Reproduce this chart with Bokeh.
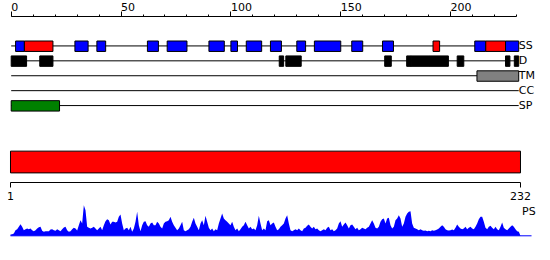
from bokeh.plotting import figure
from bokeh.layouts import column
from bokeh.models import Range1d, LinearAxis, FixedTicker
from bokeh.embed import file_html
from bokeh.resources import INLINE
from bokeh.core.properties import value
import numpy as np

# ---------------- data ----------------
seq_len = 232
track_names = ["SS", "D", "TM", "CC", "SP"]

# secondary structure (helix = blue, strand = red), in sequence coordinates
helix_start = [2, 29, 39, 62, 71, 90, 100, 107, 118, 130, 138, 155, 169, 211, 225]
helix_end   = [6, 35, 43, 67, 80, 97, 103, 114, 123, 134, 150, 160, 174, 216, 231]
strand_start = [6, 192, 216]
strand_end   = [19, 195, 225]

# disorder segments
dis_start = [0, 13, 122, 125, 170, 180, 182, 190, 203, 225, 229]
dis_end   = [7, 19, 124, 132, 173, 182, 190, 199, 206, 227, 231]

# transmembrane segment
tm_start = [212]
tm_end = [231]

# signal peptide
sp_start = [0]
sp_end = [22]

# top axis ticks
top_major = [0, 50, 100, 150, 200]
top_labels = ["0", "50", "100", "150", "200"]
top_minor = [0, 10, 20, 30, 40, 50, 60, 70, 80, 90, 100, 110, 120, 130, 140,
             150, 160, 170, 180, 190, 200, 210, 220, 230]

# whole-sequence bar
bar_start = [1]
bar_end = [232]
bottom_ticks = [1, 232]

# PS profile (sampled along the sequence from 1 to 232)
ps_values = [
    0.04, 0.05, 0.07, 0.17, 0.20, 0.27, 0.35, 0.27, 0.17, 0.20,
    0.22, 0.20, 0.22, 0.17, 0.14, 0.17, 0.22, 0.26, 0.27, 0.15,
    0.12, 0.14, 0.14, 0.14, 0.19, 0.20, 0.17, 0.15, 0.20, 0.17,
    0.14, 0.20, 0.25, 0.27, 0.17, 0.12, 0.14, 0.20, 0.24, 0.22,
    0.16, 0.32, 0.47, 0.37, 0.92, 0.77, 0.27, 0.24, 0.22, 0.24,
    0.27, 0.22, 0.17, 0.22, 0.27, 0.17, 0.32, 0.44, 0.50, 0.47,
    0.34, 0.42, 0.42, 0.40, 0.42, 0.57, 0.64, 0.37, 0.17, 0.22,
    0.24, 0.17, 0.27, 0.12, 0.22, 0.42,
    0.72, 0.32, 0.14, 0.32, 0.42, 0.44, 0.32, 0.27, 0.37, 0.40,
    0.32, 0.32, 0.42, 0.37, 0.27, 0.22, 0.37, 0.42, 0.44, 0.47,
    0.57, 0.42, 0.32, 0.24, 0.17, 0.22, 0.32, 0.42, 0.17, 0.14,
    0.17, 0.20, 0.27, 0.42, 0.54, 0.37, 0.27, 0.17, 0.37, 0.47,
    0.32, 0.60, 0.42, 0.24, 0.17, 0.22, 0.14, 0.20, 0.17, 0.37,
    0.52, 0.67, 0.52, 0.47, 0.42, 0.37, 0.32, 0.42, 0.27, 0.17,
    0.22, 0.14, 0.20, 0.27, 0.32, 0.42, 0.32, 0.22, 0.27, 0.20,
    0.22, 0.17, 0.32, 0.60, 0.37, 0.17, 0.22, 0.17,
    0.44, 0.47, 0.32, 0.37, 0.40, 0.27, 0.17, 0.20, 0.27, 0.32,
    0.37, 0.52, 0.62, 0.37, 0.17, 0.14, 0.17, 0.20, 0.17, 0.22,
    0.17, 0.14, 0.22, 0.24, 0.30, 0.34, 0.27, 0.22, 0.27, 0.20,
    0.22, 0.17, 0.14, 0.17, 0.20, 0.17, 0.24, 0.27, 0.17, 0.20,
    0.14, 0.17, 0.22, 0.37, 0.44, 0.27, 0.34, 0.40, 0.32, 0.22,
    0.32, 0.34, 0.27, 0.20, 0.24, 0.17, 0.20, 0.24, 0.22, 0.20,
    0.24, 0.27, 0.37, 0.47, 0.37, 0.24, 0.22, 0.27, 0.42, 0.50,
    0.52, 0.37, 0.52, 0.54, 0.32, 0.22, 0.27, 0.47,
    0.52, 0.62, 0.52, 0.27, 0.37, 0.57, 0.67, 0.72, 0.74, 0.37,
    0.24, 0.22, 0.20, 0.17, 0.20, 0.17, 0.15, 0.16, 0.14, 0.15,
    0.14, 0.17, 0.15, 0.17, 0.19, 0.22, 0.27, 0.32, 0.27, 0.20,
    0.17, 0.16, 0.17, 0.19, 0.17, 0.24, 0.34, 0.27, 0.22, 0.20,
    0.22, 0.27, 0.20, 0.24, 0.27, 0.22, 0.20, 0.27, 0.37, 0.50,
    0.57, 0.57, 0.42, 0.24, 0.20, 0.27, 0.30, 0.24, 0.20, 0.27,
    0.20, 0.17, 0.27, 0.40, 0.24, 0.20, 0.17, 0.22, 0.27, 0.32,
    0.27, 0.20, 0.14, 0.12, 0.00,
]
ps_x = np.linspace(1, seq_len, len(ps_values))

FONT = "DejaVu Sans"
FIG_SPACE = "\u2007"


def base_fig(height, x_range, y_range, mbb=0):
    p = figure(width=550, height=height, x_range=x_range, y_range=y_range,
               output_backend="svg", toolbar_location=None,
               x_axis_location=None, y_axis_location=None,
               min_border_left=0, min_border_right=0,
               min_border_top=0, min_border_bottom=mbb)
    p.outline_line_color = None
    p.xgrid.visible = False
    p.ygrid.visible = False
    p.background_fill_color = "white"
    p.border_fill_color = "white"
    return p


# ---------------- top panel: tracks ----------------
pA = base_fig(121, Range1d(-4.870, 245.47), Range1d(4.867, -1.973))
pA.margin = (-3, 0, 0, 0)

ax = LinearAxis(ticker=FixedTicker(ticks=top_major, minor_ticks=top_minor), bounds=(0, 230))
ax.major_tick_out = 5
ax.major_tick_in = 0
ax.minor_tick_out = 2
ax.minor_tick_in = 0
ax.major_label_standoff = -2
ax.major_label_text_font = FONT
ax.major_label_text_font_size = "11px"
ax.major_label_text_color = "black"
# labels start at their tick: pad on the left with figure spaces of the same width
ax.major_label_overrides = {t: FIG_SPACE * len(s) + s for t, s in zip(top_major, top_labels)}
ax.axis_line_color = "black"
ax.major_tick_line_color = "black"
ax.minor_tick_line_color = "black"
pA.add_layout(ax, "above")

rows = list(range(len(track_names)))
track_x1 = seq_len - 1
pA.segment(x0=[0] * len(rows), x1=[track_x1] * len(rows), y0=rows, y1=rows,
           line_color="black", line_width=1)

top_off, bot_off = -0.33, 0.37


def boxes(p, starts, ends, row, color):
    p.quad(left=starts, right=ends, top=[row + top_off] * len(starts),
           bottom=[row + bot_off] * len(starts), fill_color=color,
           line_color="black", line_width=1)


boxes(pA, helix_start, helix_end, 0, "#0000ff")
boxes(pA, strand_start, strand_end, 0, "#ff0000")
boxes(pA, dis_start, dis_end, 1, "#000000")
boxes(pA, tm_start, tm_end, 2, "#808080")
boxes(pA, sp_start, sp_end, 4, "#008000")

pA.text(x=[track_x1] * len(rows), y=rows, text=track_names, text_align="left",
        text_baseline="middle", text_font=value(FONT), text_font_size="11px",
        text_color="black")

# ---------------- middle panel: whole-sequence bar ----------------
pB = base_fig(86, Range1d(-3.529, 245.59), Range1d(0, 1), mbb=22)
pB.quad(left=bar_start, right=bar_end, bottom=[0.15], top=[0.49],
        fill_color="#ff0000", line_color="black", line_width=1)
axB = LinearAxis(ticker=FixedTicker(ticks=bottom_ticks, minor_ticks=[]), bounds=(1, 232))
axB.major_tick_out = 5
axB.major_tick_in = 0
axB.major_label_standoff = 4
axB.major_label_text_font = FONT
axB.major_label_text_font_size = "11px"
axB.major_label_text_color = "black"
axB.axis_line_color = "black"
pB.add_layout(axB, "below")

# ---------------- bottom panel: PS profile ----------------
pC = base_fig(56, Range1d(-3.529, 245.59), Range1d(-0.741, 0.939))
pC.varea(x=ps_x, y1=0, y2=ps_values, fill_color="#0000ff")
pC.segment(x0=[ps_x[0]], x1=[seq_len + 5], y0=[0], y1=[0], line_color="#0000ff", line_width=1)
pC.text(x=[seq_len + 0.7], y=[0.73], text=["PS"], text_align="left", text_baseline="middle",
        text_font=value(FONT), text_font_size="11px", text_color="black")

layout = column(pA, pB, pC, spacing=0)
open("out.html", "w").write(file_html(layout, INLINE))
